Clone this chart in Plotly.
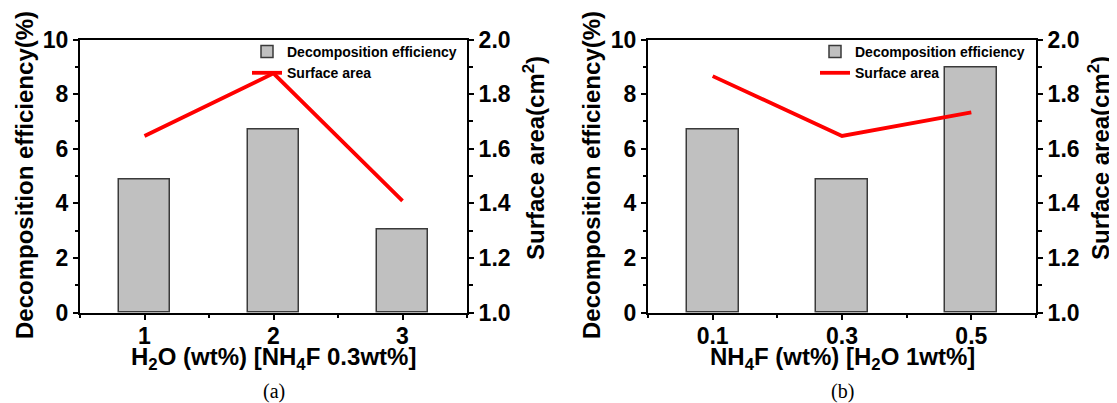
import plotly.graph_objects as go

# ---- data ----
h2o_wt = [1, 2, 3]
eff_a = [4.88, 6.69, 3.05]
area_a = [1.647, 1.876, 1.409]

nh4f_wt = [0.1, 0.3, 0.5]
eff_b = [6.69, 4.88, 8.98]
area_b = [1.866, 1.647, 1.733]

FONT = "Liberation Sans"
BAR_FILL = "#c0c0c0"
BAR_LINE = "#3a3a3a"
RED = "#ff0000"

W, H = 1117, 403
OFF = 8  # page body margin offset

def px(x):
    return (x - OFF) / W
def py(y):
    return (H - (y - OFF)) / H

dom_a = [px(80), px(467)]
dom_b = [px(648), px(1036)]
dom_y = [py(312.7), py(39.5)]

fig = go.Figure()
fig.add_trace(go.Bar(x=h2o_wt, y=eff_a, width=0.4, marker=dict(color=BAR_FILL, line=dict(color=BAR_LINE, width=1.5)),
                     name="Decomposition efficiency", xaxis="x", yaxis="y", legend="legend"))
fig.add_trace(go.Scatter(x=h2o_wt, y=area_a, mode="lines", line=dict(color=RED, width=3.8),
                         name="Surface area", xaxis="x", yaxis="y2", legend="legend"))
fig.add_trace(go.Bar(x=nh4f_wt, y=eff_b, width=0.08, marker=dict(color=BAR_FILL, line=dict(color=BAR_LINE, width=1.5)),
                     name="Decomposition efficiency", xaxis="x2", yaxis="y3", legend="legend2"))
fig.add_trace(go.Scatter(x=nh4f_wt, y=area_b, mode="lines", line=dict(color=RED, width=3.8),
                         name="Surface area", xaxis="x2", yaxis="y4", legend="legend2"))

tickfont = dict(family=FONT, size=23, color="black", weight="bold")
titlefont = dict(family=FONT, size=24, color="black", weight="bold")
common = dict(showline=True, linecolor="black", linewidth=2, showgrid=False, zeroline=False,
              ticks="outside", ticklen=5, tickwidth=2, tickcolor="black", tickfont=tickfont)

def xax(domain, anchor, rng, t0, dt, fmt):
    return dict(domain=domain, anchor=anchor, range=rng, tickmode="linear", tick0=t0, dtick=dt,
                tickformat=fmt, mirror=True, ticklabelstandoff=-3,
                minor=dict(dtick=dt / 2, tick0=t0, ticks="outside", ticklen=3, tickwidth=1.5, tickcolor="black"),
                **common)

def yleft(anchor):
    return dict(domain=dom_y, anchor=anchor, range=[0, 10], tickmode="linear", tick0=0, dtick=2,
                minor=dict(dtick=1, ticks="outside", ticklen=3, tickwidth=1.5, tickcolor="black"),
                **common)

def yright(overlay, anchor):
    return dict(overlaying=overlay, anchor=anchor, side="right", range=[1, 2], tickmode="linear", tick0=1,
                dtick=0.2, tickformat=".1f",
                minor=dict(dtick=0.1, ticks="outside", ticklen=4, tickwidth=1.5, tickcolor="black"),
                **common)

legfont = dict(family=FONT, size=14, color="black", weight="bold")

def ytitle(text, x, y):
    return dict(text=text, x=px(x), y=py(y), xref="paper", yref="paper", textangle=-90,
                showarrow=False, font=titlefont, xanchor="center", yanchor="middle")

def xtitle(text, dom, y):
    return dict(text=text, x=(dom[0] + dom[1]) / 2, y=py(y), xref="paper", yref="paper",
                showarrow=False, font=titlefont, xanchor="center", yanchor="middle")

def panel_label(text, dom):
    return dict(text=text, x=(dom[0] + dom[1]) / 2, y=py(391), xref="paper", yref="paper",
                showarrow=False, xanchor="center", yanchor="middle",
                font=dict(family="Liberation Serif", size=20, color="black"))

fig.update_layout(
    width=W, height=H,
    margin=dict(l=0, r=0, t=0, b=0, autoexpand=False),
    paper_bgcolor="white", plot_bgcolor="white",
    bargap=0,
    xaxis=xax(dom_a, "y", [0.5, 3.5], 1, 1, "d"),
    xaxis2=xax(dom_b, "y3", [0, 0.6], 0.1, 0.2, ".1f"),
    yaxis=yleft("x"),
    yaxis2=yright("y", "x"),
    yaxis3=yleft("x2"),
    yaxis4=yright("y3", "x2"),
    legend=dict(x=px(462), xanchor="right", y=py(36), yanchor="top", bgcolor="rgba(0,0,0,0)",
                font=legfont, traceorder="normal", tracegroupgap=0, itemwidth=30),
    legend2=dict(x=px(1030), xanchor="right", y=py(36), yanchor="top", bgcolor="rgba(0,0,0,0)",
                 font=legfont, traceorder="normal", tracegroupgap=0, itemwidth=30),
    annotations=[
        ytitle("Decomposition efficiency(%)", 24, 175),
        ytitle("Surface area(cm<sup>2</sup>)", 534, 158),
        ytitle("Decomposition efficiency(%)", 591, 175),
        ytitle("Surface area(cm<sup>2</sup>)", 1099, 158),
        xtitle("H<sub>2</sub>O (wt%) [NH<sub>4</sub>F 0.3wt%]", dom_a, 358),
        xtitle("NH<sub>4</sub>F (wt%) [H<sub>2</sub>O 1wt%]", dom_b, 358),
        panel_label("(a)", dom_a),
        panel_label("(b)", dom_b),
    ],
)

fig.write_html("out.html")
